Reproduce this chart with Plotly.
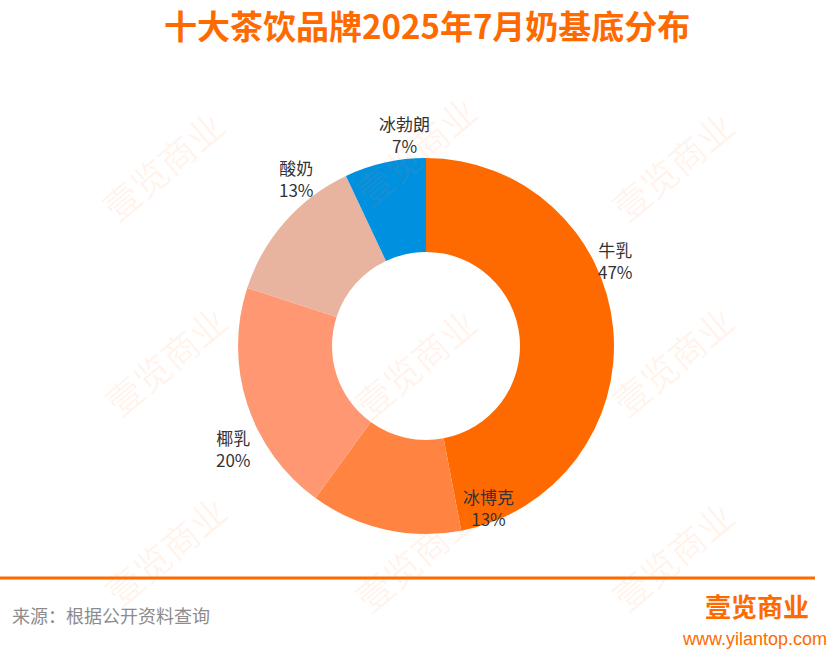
import plotly.graph_objects as go

labels = ["牛乳", "冰博克", "椰乳", "酸奶", "冰勃朗"]
values = [47, 13, 20, 13, 7]
colors = ["#FF6A00", "#FF8442", "#FF9872", "#E8B4A0", "#0090E0"]

W, H = 838, 657
cx, cy, r = 426, 346, 188

# label block centres (pixels), layout only
label_pos = [(615, 260), (489, 507), (233, 448), (296, 179), (404, 135)]

def px(x, y):
    return x / W, 1 - y / H

fig = go.Figure()
fig.add_trace(go.Pie(
    labels=labels, values=values, sort=False, direction="clockwise", rotation=0,
    hole=0.5,
    marker=dict(colors=colors, line=dict(width=0)),
    textinfo="none",
    showlegend=False,
    domain=dict(x=[(cx - r) / W, (cx + r) / W], y=[1 - (cy + r) / H, 1 - (cy - r) / H]),
    hoverinfo="label+percent",
))

annotations = []
# watermarks
for (wx, wy) in [(162, 165), (415, 150), (672, 165), (165, 360), (415, 362), (672, 360),
                 (165, 550), (415, 556), (672, 555)]:
    x, y = px(wx, wy)
    annotations.append(dict(x=x, y=y, xref="paper", yref="paper", text="壹览商业",
                            xanchor="center", yanchor="middle",
                            showarrow=False, textangle=-40,
                            font=dict(family="Noto Sans CJK SC", size=36, color="rgba(255,130,60,0.09)")))

total = sum(values)
for lab, val, (lx, ly) in zip(labels, values, label_pos):
    x, y = px(lx, ly)
    annotations.append(dict(x=x, y=y, xref="paper", yref="paper",
                            text=f"{lab}<br>{round(val / total * 100)}%",
                            xanchor="center", yanchor="middle", showarrow=False,
                            font=dict(family="Noto Sans CJK SC", size=17, color="#333333")))

x, y = px(427, 25)
annotations.append(dict(x=x, y=y, xref="paper", yref="paper", text="<b>十大茶饮品牌2025年7月奶基底分布</b>",
                        xanchor="center", yanchor="middle",
                        showarrow=False, font=dict(family="Noto Sans CJK SC", size=33, color="#FF6A00")))
x, y = px(10, 615)
annotations.append(dict(x=x, y=y, xref="paper", yref="paper", text="来源：根据公开资料查询",
                        xanchor="left", yanchor="middle",
                        showarrow=False, font=dict(family="Noto Sans CJK SC", size=18, color="#8C8C8C")))
x, y = px(757, 605)
annotations.append(dict(x=x, y=y, xref="paper", yref="paper", text="<b>壹览商业</b>",
                        xanchor="center", yanchor="middle",
                        showarrow=False, font=dict(family="Noto Sans CJK SC", size=26, color="#FF6A00")))
x, y = px(754, 639)
annotations.append(dict(x=x, y=y, xref="paper", yref="paper", text="www.yilantop.com",
                        xanchor="center", yanchor="middle",
                        showarrow=False, font=dict(family="Liberation Sans", size=18, color="#FF6A00")))

fig.update_layout(
    width=W, height=H, margin=dict(l=0, r=0, t=0, b=0),
    paper_bgcolor="white", plot_bgcolor="white",
    annotations=annotations,
    shapes=[dict(type="line", xref="paper", yref="paper", x0=0, x1=815 / W,
                 y0=1 - 578 / H, y1=1 - 578 / H, line=dict(color="#FF6A00", width=3))],
)

fig.write_html("out.html", config={"displayModeBar": False},
               post_script="document.body.style.margin='0';")
